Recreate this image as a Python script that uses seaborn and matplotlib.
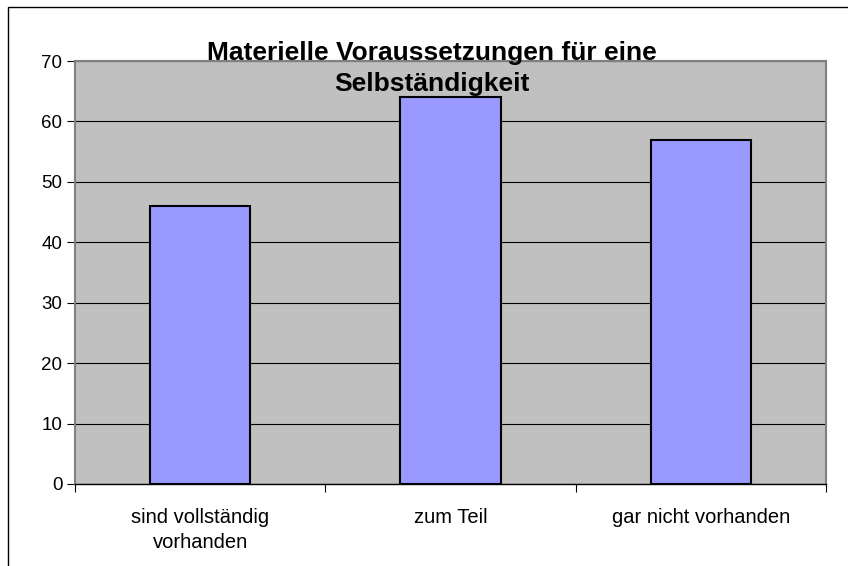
import numpy as np
import pandas as pd
import matplotlib.pyplot as plt
import seaborn as sns
from matplotlib.patches import Rectangle

categories = ['sind vollständig\nvorhanden', 'zum Teil', 'gar nicht vorhanden']
values = [46, 64, 57]
title = 'Materielle Voraussetzungen für eine\nSelbständigkeit'

sns.set_style('white')
plt.rcParams['font.family'] = ['Liberation Sans', 'DejaVu Sans']
plt.rcParams['text.color'] = 'black'
plt.rcParams['xtick.color'] = 'black'
plt.rcParams['ytick.color'] = 'black'

df = pd.DataFrame({'cat': categories, 'val': values})

fig = plt.figure(figsize=(8.48, 5.66), dpi=100)
ax = fig.add_axes([75 / 848, 1 - 484 / 566, (826 - 75) / 848, (484 - 61) / 566])
ax.set_facecolor('#C0C0C0')

sns.barplot(data=df, x='cat', y='val', color='#9999FF', width=0.4,
            edgecolor='black', linewidth=1.5, saturation=1, ax=ax, zorder=3)

ax.set_ylim(0, 70)
ax.set_xlim(-0.5, 2.5)
ax.set_yticks(range(0, 71, 10))
ax.yaxis.grid(True, color='black', linewidth=0.8, zorder=1)
ax.set_axisbelow(True)
ax.set_xlabel('')
ax.set_ylabel('')

# x ticks at category boundaries
ax.set_xticks([-0.5, 0.5, 1.5, 2.5], minor=True)
ax.tick_params(axis='x', which='major', bottom=True, length=0, labelsize=14.5, pad=17)
ax.tick_params(axis='x', which='minor', bottom=True, length=6, width=0.8, color='black', direction='out')
ax.tick_params(axis='y', left=True, length=6, width=0.8, color='black', direction='out', labelsize=13.5, pad=3)
ax.set_xticklabels(categories, linespacing=1.45)

for side in ['top', 'right', 'left']:
    ax.spines[side].set_color('#808080')
    ax.spines[side].set_linewidth(1.5)
ax.spines['bottom'].set_color('black')
ax.spines['bottom'].set_linewidth(1)

fig.text(432 / 848, 1 - 68.5 / 566, title, ha='center', va='center',
         fontsize=19, fontweight='bold', linespacing=1.4)

fig.patches.append(Rectangle((8 / 848, -0.01), 1.0, 1 - 7 / 566 + 0.01,
                             transform=fig.transFigure, fill=False,
                             edgecolor='black', linewidth=1))

fig.savefig('out.png', dpi=100)
